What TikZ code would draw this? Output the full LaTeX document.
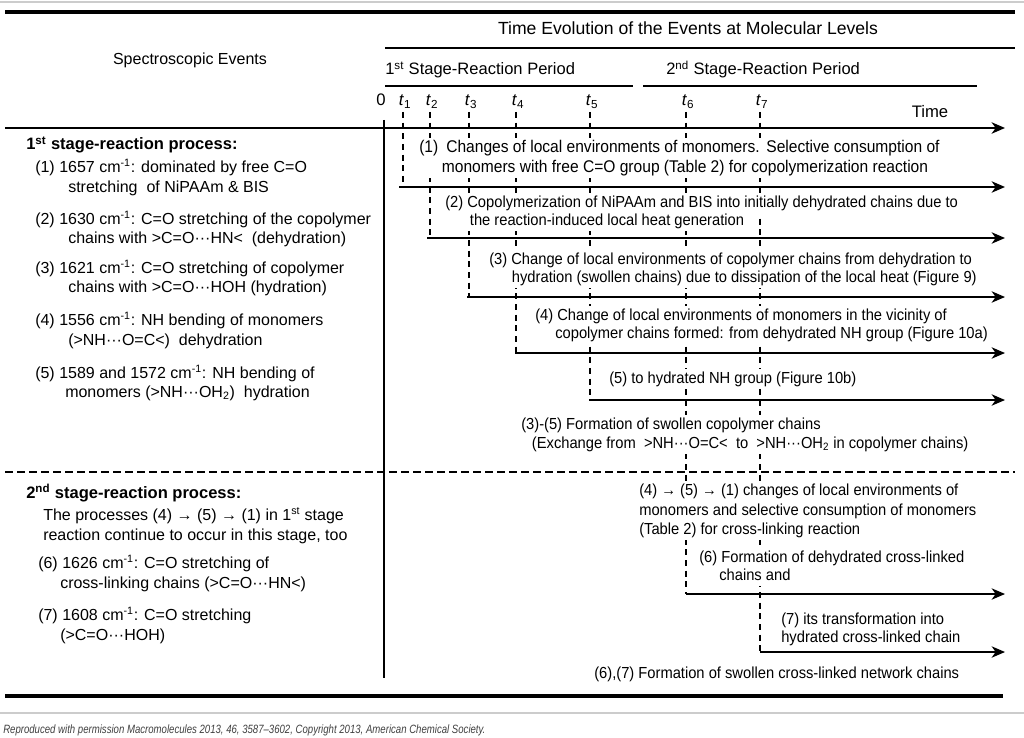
\documentclass[tikz,border=0pt]{standalone}
\usepackage{fontspec}
\setmainfont{Liberation Sans}
\newfontfamily\rf[FakeStretch=0.92]{Liberation Sans}
\newfontfamily\capf[FakeStretch=0.8]{Liberation Sans}
\usetikzlibrary{arrows.meta}
\begin{document}
\begin{tikzpicture}[x=0.75pt,y=-0.75pt,
  lt/.style={anchor=base west,inner sep=0pt,font=\fontsize{12}{14}\selectfont},
  lb/.style={anchor=base west,inner sep=0pt,font=\fontsize{12.4}{14}\selectfont\bfseries},
  hd/.style={anchor=base,inner sep=0pt,font=\fontsize{12}{14}\selectfont},
  tk/.style={anchor=base,inner sep=0pt,font=\fontsize{12.5}{14}\selectfont},
  rt/.style={anchor=base west,inner xsep=1.5pt,inner ysep=0pt,text height=10.5pt,text depth=4.5pt,fill=white,font=\rf\fontsize{12}{14}\selectfont},
  rtb/.style={rt,font=\rf\fontsize{12.7}{14}\selectfont},
  ev/.style={line width=1.3pt,-{Stealth[length=10pt,width=8.5pt,inset=3pt]}},
  tl/.style={line width=0.9pt,dash pattern=on 4.5pt off 3.5pt},
  thickrule/.style={line width=3pt},
  greyrule/.style={line width=0.8pt,black!20},
]
\useasboundingbox (0,0) rectangle (1024,738);
% frame rules
\coordinate (g1a) at (0,2); \coordinate (g1b) at (1024,2);
\draw[greyrule] (g1a) -- (g1b);
\coordinate (r1a) at (5,12); \coordinate (r1b) at (1015,12);
\draw[thickrule] (r1a) -- (r1b);
\coordinate (r2a) at (385,48); \coordinate (r2b) at (1015,48);
\draw[line width=2.2pt] (r2a) -- (r2b);
\coordinate (s1a) at (385,86); \coordinate (s1b) at (633,86);
\draw[line width=1.2pt] (s1a) -- (s1b);
\coordinate (s2a) at (643,86); \coordinate (s2b) at (977,86);
\draw[line width=1.2pt] (s2a) -- (s2b);
% headers
\node[hd,font=\fontsize{13.2}{15}\selectfont] (te) at (688,35) {Time Evolution of the Events at Molecular Levels};
\node[hd] (se) at (190,65) {Spectroscopic Events};
\node[anchor=base west,inner sep=0pt,font=\fontsize{12.4}{15}\selectfont] (st1) at (385,75) {1\textsuperscript{st} Stage-Reaction Period};
\node[anchor=base west,inner sep=0pt,font=\fontsize{12.4}{15}\selectfont] (st2) at (666,75) {2\textsuperscript{nd} Stage-Reaction Period};
% tick labels
\node[tk] (l0) at (381,106) {0};
\node[tk] (lt1) at (405,106) {\textit{t}\textsubscript{1}};
\node[tk] (lt2) at (432,106) {\textit{t}\textsubscript{2}};
\node[tk] (lt3) at (471,106) {\textit{t}\textsubscript{3}};
\node[tk] (lt4) at (518,106) {\textit{t}\textsubscript{4}};
\node[tk] (lt5) at (592,106) {\textit{t}\textsubscript{5}};
\node[tk] (lt6) at (688,106) {\textit{t}\textsubscript{6}};
\node[tk] (lt7) at (762,106) {\textit{t}\textsubscript{7}};
\node[tk] (time) at (930,118) {Time};
% coordinates of the time marks and arrows
\coordinate (ax0) at (5,128); \coordinate (axe) at (1005,128);
\coordinate (t1) at (403,112); \coordinate (t2) at (430,112); \coordinate (t3) at (469,112);
\coordinate (t4) at (516,112); \coordinate (t5) at (590,112); \coordinate (t6) at (686,112);
\coordinate (t7) at (760,112);
\coordinate (a1s) at (399,187); \coordinate (a1e) at (1005,187);
\coordinate (a2s) at (427,238); \coordinate (a2e) at (1005,238);
\coordinate (a3s) at (467,297); \coordinate (a3e) at (1005,297);
\coordinate (a4s) at (515,353); \coordinate (a4e) at (1005,353);
\coordinate (a5s) at (589,400); \coordinate (a5e) at (1005,400);
\coordinate (a6s) at (686,594); \coordinate (a6e) at (1005,594);
\coordinate (a7s) at (760,652); \coordinate (a7e) at (1005,652);
% dashed time marks
\draw[tl] (t1) -- (t1 |- a1s);
\draw[tl] (t2) -- (t2 |- a2s);
\draw[tl] (t3) -- (t3 |- a3s);
\draw[tl] (t4) -- (t4 |- a4s);
\draw[tl] (t5) -- (t5 |- a5s);
\draw[tl] (t6) -- (t6 |- a6s);
\draw[tl] (t7) -- (t7 |- a7s);
% vertical separator
\coordinate (v0) at (384,120); \coordinate (v1) at (384,678);
\draw[line width=1.2pt] (v0) -- (v1);
% stage separator
\coordinate (d0) at (5,472); \coordinate (d1) at (1015,472);
\draw[line width=2.2pt,dash pattern=on 6pt off 3pt] (d0) -- (d1);
% left column, 1st stage
\node[lb] (h1) at (26,150) {1\textsuperscript{st} stage-reaction process:};
\node[lt] (p1a) at (35,172) {(1) 1657 cm\textsuperscript{-1}: dominated by free C=O};
\node[lt] (p1b) at (68,192) {stretching\ \ of NiPAAm \& BIS};
\node[lt] (p2a) at (35,224) {(2) 1630 cm\textsuperscript{-1}: C=O stretching of the copolymer};
\node[lt] (p2b) at (68,243) {chains with >C=O···HN<\ \ (dehydration)};
\node[lt] (p3a) at (35,273) {(3) 1621 cm\textsuperscript{-1}: C=O stretching of copolymer};
\node[lt] (p3b) at (68,292) {chains with >C=O···HOH (hydration)};
\node[lt] (p4a) at (35,325) {(4) 1556 cm\textsuperscript{-1}: NH bending of monomers};
\node[lt] (p4b) at (68,345) {(>NH···O=C<)\ \ dehydration};
\node[lt] (p5a) at (35,378) {(5) 1589 and 1572 cm\textsuperscript{-1}: NH bending of};
\node[lt] (p5b) at (65,397) {monomers (>NH···OH\textsubscript{2})\ \ hydration};
% left column, 2nd stage
\node[lb] (h2) at (26,498) {2\textsuperscript{nd} stage-reaction process:};
\node[lt] (q1a) at (43,520) {The processes (4) → (5) → (1) in 1\textsuperscript{st} stage};
\node[lt] (q1b) at (43,540) {reaction continue to occur in this stage, too};
\node[lt] (q2a) at (38,568) {(6) 1626 cm\textsuperscript{-1}: C=O stretching of};
\node[lt] (q2b) at (60,588) {cross-linking chains (>C=O···HN<)};
\node[lt] (q3a) at (38,620) {(7) 1608 cm\textsuperscript{-1}: C=O stretching};
\node[lt] (q3b) at (60,640) {(>C=O···HOH)};
% right column texts
\node[rtb] (e1a) at (417,152) {(1)\hspace{6pt}Changes of local environments of monomers.\hspace{5pt}Selective consumption of};
\node[rtb] (e1b) at (417,172) {\hspace*{17pt}monomers with free C=O group (Table 2) for copolymerization reaction};
\node[rt] (e2a) at (443,208) {(2) Copolymerization of NiPAAm and BIS into initially dehydrated chains due to};
\node[rt] (e2b) at (443,225) {\hspace*{18.5pt}the reaction-induced local heat generation};
\node[rt] (e3a) at (487,264) {(3) Change of local environments of copolymer chains from dehydration to};
\node[rt] (e3b) at (487,282) {\hspace*{17pt}hydration (swollen chains) due to dissipation of the local heat (Figure 9)};
\node[rt] (e4a) at (533,320) {(4) Change of local environments of monomers in the vicinity of};
\node[rt] (e4b) at (533,338) {\hspace*{15pt}copolymer chains formed: from dehydrated NH group (Figure 10a)};
\node[rt] (e5) at (607,383) {(5) to hydrated NH group (Figure 10b)};
\node[rt] (e6a) at (519,429) {(3)-(5) Formation of swollen copolymer chains};
\node[rt] (e6b) at (519,448) {\hspace*{8pt}(Exchange from\ \ >NH···O=C<\ \ to\ \ >NH···OH\textsubscript{2} in copolymer chains)};
\node[rt] (e7a) at (637,495) {(4) → (5) → (1) changes of local environments of};
\node[rt] (e7b) at (637,515) {monomers and selective consumption of monomers};
\node[rt] (e7c) at (637,534) {(Table 2) for cross-linking reaction};
\node[rt] (e8a) at (697,562) {(6) Formation of dehydrated cross-linked};
\node[rt] (e8b) at (697,580) {\hspace*{15pt}chains and};
\node[rt] (e9a) at (779,624) {(7) its transformation into};
\node[rt] (e9b) at (779,642) {hydrated cross-linked chain};
\node[rt] (e10) at (592,678) {(6),(7) Formation of swollen cross-linked network chains};
% arrows
\draw[ev,line width=1.7pt] (ax0) -- (axe);
\draw[ev] (a1s) -- (a1e);
\draw[ev] (a2s) -- (a2e);
\draw[ev] (a3s) -- (a3e);
\draw[ev] (a4s) -- (a4e);
\draw[ev] (a5s) -- (a5e);
\draw[ev] (a6s) -- (a6e);
\draw[ev] (a7s) -- (a7e);
% bottom rules and caption
\coordinate (r3a) at (5,696); \coordinate (r3b) at (1003,696);
\draw[thickrule] (r3a) -- (r3b);
\coordinate (g2a) at (0,713); \coordinate (g2b) at (1024,713);
\draw[greyrule] (g2a) -- (g2b);
\node[anchor=base west,inner sep=0pt,font=\capf\fontsize{9}{10}\selectfont\itshape,text=black!75] (cap) at (3,733) {Reproduced with permission Macromolecules 2013, 46, 3587–3602, Copyright 2013, American Chemical Society.};
\end{tikzpicture}
\end{document}
